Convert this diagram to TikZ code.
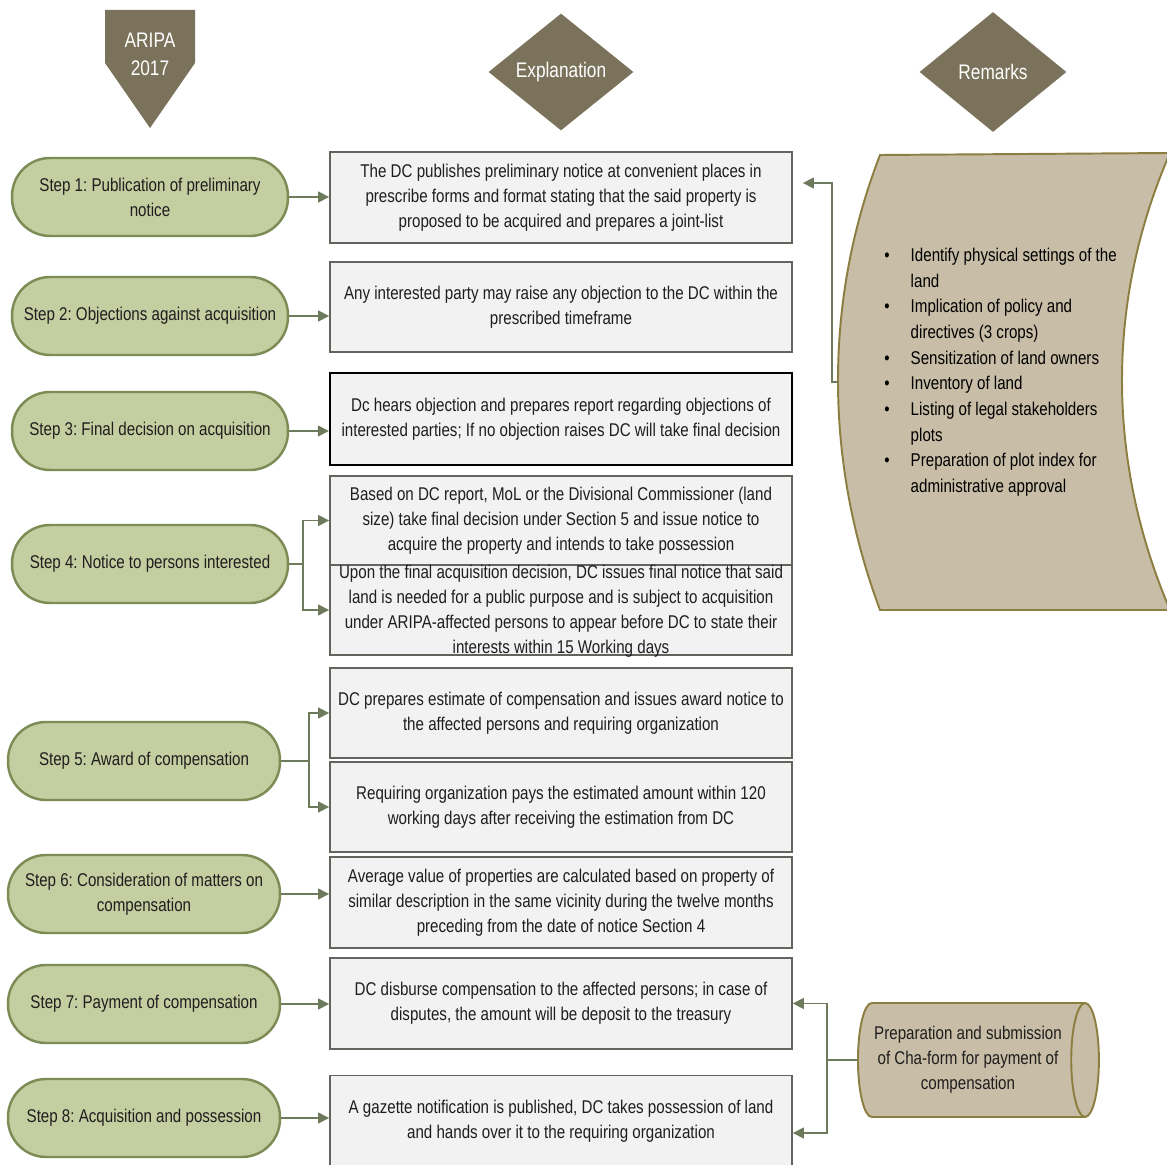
\documentclass[tikz,border=0pt]{standalone}
\usepackage{fontspec}
\setmainfont{Liberation Sans}[FakeStretch=0.82]
\frenchspacing
\usetikzlibrary{arrows.meta,positioning,shapes.geometric}
\definecolor{hdrfill}{RGB}{122,114,90}
\definecolor{stepfill}{RGB}{197,206,160}
\definecolor{stepline}{RGB}{125,140,85}
\definecolor{boxfill}{RGB}{242,242,242}
\definecolor{boxline}{RGB}{100,100,95}
\definecolor{tanfill}{RGB}{200,189,166}
\definecolor{tanline}{RGB}{140,125,65}
\definecolor{conncol}{RGB}{110,122,92}
\definecolor{txtcol}{RGB}{30,30,30}

\begin{document}
\begin{tikzpicture}[x=0.02cm, y=-0.02cm, font=\fontsize{10.5}{14.3}\selectfont,
  >={Triangle[length=2.2mm,width=2.2mm]},
  every node/.style={align=center, text=txtcol},
  stepbox/.style={draw=stepline, fill=stepfill, line width=1.4pt, rounded corners=0.76cm,
    minimum width=5.52cm, minimum height=1.56cm, inner sep=2pt},
  expbox/.style={draw=boxline, fill=boxfill, line width=1.1pt, minimum width=9.24cm,
    minimum height=1.8cm, inner sep=2pt},
  hdr/.style={fill=hdrfill, text=white, font=\fontsize{12}{16}\selectfont},
  conn/.style={draw=conncol, line width=0.85pt, ->}]
\path[fill=white, use as bounding box] (0,0) rectangle (1167,1165);

% column heads
\fill[hdrfill] (105,10) -- (195,10) -- (195,63) -- (150,128) -- (105,63) -- cycle;
\node[hdr, fill=none] (aripa) at (150,54) {ARIPA\\2017};
\node[hdr, diamond, minimum width=2.9cm, minimum height=2.34cm, inner sep=0pt] (expl) at (561,72) {Explanation};
\node[hdr, diamond, minimum width=2.94cm, minimum height=2.4cm, inner sep=0pt] (rmk) at (993,72) {Remarks};

% steps
\node[stepbox] (s1) at (150,197) {Step 1: Publication of preliminary\\notice};
\node[stepbox] (s2) at (150,316) {Step 2: Objections against acquisition};
\node[stepbox] (s3) at (150,431) {Step 3: Final decision on acquisition};
\node[stepbox] (s4) at (150,564) {Step 4: Notice to persons interested};
\node[stepbox, minimum width=5.44cm] (s5) at (144,761) {Step 5: Award of compensation};
\node[stepbox, minimum width=5.44cm] (s6) at (144,894) {Step 6: Consideration of matters on\\compensation};
\node[stepbox, minimum width=5.44cm] (s7) at (144,1004) {Step 7: Payment of compensation};
\node[stepbox, minimum width=5.44cm] (s8) at (144,1118) {Step 8: Acquisition and possession};

% explanations
\node[expbox, minimum height=1.82cm] (e1) at (561,197.5) {The DC publishes preliminary notice at convenient places in\\prescribe forms and format stating that the said property is\\proposed to be acquired and prepares a joint-list};
\node[expbox] (e2) at (561,307) {Any interested party may raise any objection to the DC within the\\prescribed timeframe};
\node[expbox, draw=black, line width=1.4pt, minimum height=1.84cm] (e3) at (561,419) {Dc hears objection and prepares report regarding objections of\\interested parties; If no objection raises DC will take final decision};
\node[expbox, minimum height=1.78cm] (e4a) at (561,520.5) {Based on DC report, MoL or the Divisional Commissioner (land\\size) take final decision under Section 5 and issue notice to\\acquire the property and intends to take possession};
\node[expbox] (e4b) at (561,610) {\smash{\raisebox{-0.12cm}{\begin{tabular}{@{}c@{}}Upon the final acquisition decision, DC issues final notice that said\\land is needed for a public purpose and is subject to acquisition\\under ARIPA-affected persons to appear before DC to state their\\interests within 15 Working days\end{tabular}}}};
\node[expbox] (e5a) at (561,713) {DC prepares estimate of compensation and issues award notice to\\the affected persons and requiring organization};
\node[expbox] (e5b) at (561,807) {Requiring organization pays the estimated amount within 120\\working days after receiving the estimation from DC};
\node[expbox, minimum height=1.82cm] (e6) at (561,902.5) {Average value of properties are calculated based on property of\\similar description in the same vicinity during the twelve months\\preceding from the date of notice Section 4};
\node[expbox, minimum height=1.82cm] (e7) at (561,1003.5) {DC disburse compensation to the affected persons; in case of\\disputes, the amount will be deposit to the treasury};
\node[expbox, minimum height=1.82cm] (e8) at (561,1121) {A gazette notification is published, DC takes possession of land\\and hands over it to the requiring organization};

% remarks
\filldraw[fill=tanfill, draw=tanline, line width=1.1pt] (880,155) -- (1170,153)
  .. controls (1106,300) and (1106,460) .. (1170,610) -- (880,610)
  .. controls (824,460) and (824,300) .. (880,155) -- cycle;
\coordinate (remin) at (838,382);
\node[anchor=west, inner sep=0pt, text=black, font=\fontsize{10.5}{14.6}\selectfont] (rmktxt) at (884,372) {%
  \begin{tabular}{@{}l@{\hspace{12pt}}l@{}}
  \textbullet & Identify physical settings of the\\
   & land\\
  \textbullet & Implication of policy and\\
   & directives (3 crops)\\
  \textbullet & Sensitization of land owners\\
  \textbullet & Inventory of land\\
  \textbullet & Listing of legal stakeholders\\
   & plots\\
  \textbullet & Preparation of plot index for\\
   & administrative approval
  \end{tabular}};
\node[cylinder, draw=tanline, fill=tanfill, line width=1.1pt, aspect=0.35, minimum width=2.28cm,
  minimum height=4.82cm, anchor=west] (cyl) at (857,1060) {Preparation and submission\\of Cha-form for payment of\\compensation};

% connectors
\draw[conn] (s1) -- (s1 -| e1.west);
\draw[conn] (s2) -- (s2 -| e2.west);
\draw[conn] (s3) -- (s3 -| e3.west);
\draw[conn] (s4.east) -- ++(14,0) |- (e4a.west);
\draw[conn] (s4.east) -- ++(14,0) |- (e4b.west);
\draw[conn] (s5.east) -- ++(28,0) |- (e5a.west);
\draw[conn] (s5.east) -- ++(28,0) |- (e5b.west);
\draw[conn] (s6) -- (s6 -| e6.west);
\draw[conn] (s7) -- (s7 -| e7.west);
\draw[conn] (s8) -- (s8 -| e8.west);
\draw[conn] (remin) -- ++(-6,0) |- ([xshift=0.2cm,yshift=0.29cm]e1.east);
\draw[conn] (cyl.west) -- ++(-30,0) |- (e7.east);
\draw[conn] (cyl.west) -- ++(-30,0) |- ([yshift=-0.24cm]e8.east);
\end{tikzpicture}
\end{document}
